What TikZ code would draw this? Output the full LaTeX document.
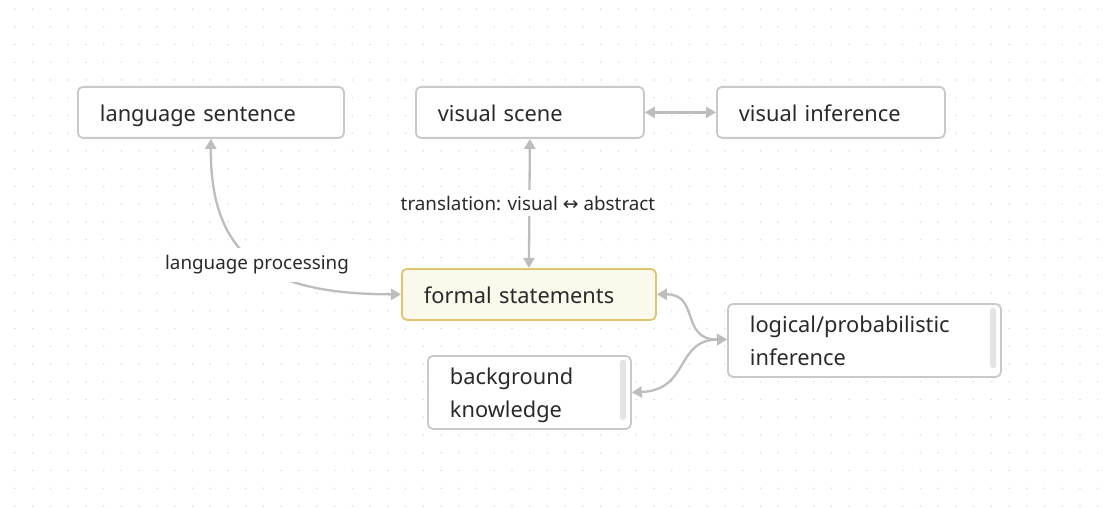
\documentclass[tikz,border=0pt]{standalone}
\usepackage{fontspec}
\setmainfont{Noto Sans}
\newfontfamily\symfont{DejaVu Sans}
\usetikzlibrary{arrows.meta}
\definecolor{edgec}{HTML}{BDBDBD}
\definecolor{boxc}{HTML}{C9C9C9}
\definecolor{txtc}{HTML}{2A2A2A}
\definecolor{goldc}{HTML}{E2C46E}
\definecolor{creamc}{HTML}{FBF8EC}
\definecolor{dotc}{HTML}{DEDEDE}
\definecolor{barc}{HTML}{E4E4E4}
\tikzset{
  box/.style={draw=boxc, line width=1.8pt, rounded corners=5pt, fill=white, text=txtc,
    font=\fontsize{21.8}{33}\selectfont, align=left, anchor=north west, inner xsep=22pt, inner ysep=0pt,
    execute at begin node=\rule{0pt}{23.1pt}, execute at end node=\rule[-5.5pt]{0pt}{5.5pt}},
  hl/.style={box, draw=goldc, fill=creamc},
  conn/.style={draw=edgec, line width=2.3pt, {Triangle[length=10pt,width=11pt]}-{Triangle[length=10pt,width=11pt]}},
  lbl/.style={fill=white, text=txtc, font=\fontsize{18.8}{22}\selectfont, inner sep=3pt},
  bar/.style={fill=barc, rounded corners=2.5pt, draw=none}
}
\begin{document}
\begin{tikzpicture}[x=1pt,y=-1pt]
\useasboundingbox (0,0) rectangle (1113,508);
\fill[white] (0,0) rectangle (1113,508);
\foreach \i in {0,...,62} {\foreach \j in {0,...,28} {
  \fill[dotc] (15+17.75*\i, 9+17.75*\j) circle (0.8pt);}}
% boxes
\node[box, minimum width=266pt, minimum height=51pt, text width=222pt] (lang) at (77,86) {language sentence};
\node[box, minimum width=228pt, minimum height=51pt, text width=184pt] (scene) at (415,86) {visual scene};
\node[box, minimum width=228pt, minimum height=51pt, text width=184pt] (vinf) at (716,86) {visual inference};
\node[hl, minimum width=254pt, minimum height=51pt, text width=210pt] (formal) at (401,268) {formal statements};
\node[box, minimum width=273pt, minimum height=73pt, text width=229pt] (logic) at (727,303) {logical/probabilistic\\inference};
\node[box, minimum width=203pt, minimum height=73pt, text width=159pt] (bg) at (427,355) {background\\knowledge};
% scrollbars
\fill[bar] (990,308) rectangle (996,368);
\fill[bar] (620,360) rectangle (626,420);
% connectors
\draw[conn] (scene.east) -- (vinf.west);
\draw[conn] (scene.south) -- (formal.north);
\node[lbl, inner ysep=6pt] (tl) at (528,203) {translation: visual {\symfont ↔} abstract};
\draw[conn] (lang.south) .. controls (210,260) and (270,294) .. (formal.west);
\node[lbl, inner xsep=4pt, inner ysep=8pt] (lp) at (257,265) {language processing};
\draw[conn] (formal.east) .. controls (700,294) and (680,340) .. ([yshift=1pt]logic.west);
\draw[conn] (bg.east) .. controls (690,390) and (675,340) .. ([yshift=1pt]logic.west);
\end{tikzpicture}
\end{document}
